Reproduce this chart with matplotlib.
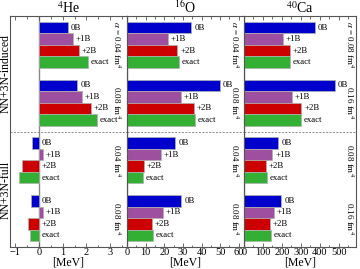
import matplotlib
matplotlib.use("Agg")
import matplotlib.pyplot as plt
from matplotlib.ticker import MultipleLocator

plt.rcParams['font.family'] = ['Liberation Serif', 'DejaVu Serif']
plt.rcParams['mathtext.fontset'] = 'stix'

nuclei = ["$^{4}$He", "$^{16}$O", "$^{40}$Ca"]
bar_labels = ["0B", "+1B", "+2B", "exact"]
bar_colors = ["#0000cc", "#9f4f9f", "#cc0000", "#33b033"]
row_labels = ["NN+3N-induced", "NN+3N-full"]

# values [MeV]: order within each group: 0B, +1B, +2B, exact
he_induced_a1 = [1.22, 1.42, 1.67, 2.07]
he_induced_a2 = [1.62, 1.81, 2.18, 2.46]
he_full_a1 = [-0.28, 0.18, -0.70, -0.86]
he_full_a2 = [-0.35, 0.16, -0.48, -0.38]

o_induced_a1 = [34.6, 22.0, 27.0, 28.0]
o_induced_a2 = [50.0, 29.0, 36.0, 36.4]
o_full_a1 = [26.0, 18.4, 9.0, 8.4]
o_full_a2 = [29.2, 19.4, 13.4, 13.8]

ca_induced_a1 = [375, 203, 242, 242]
ca_induced_a2 = [478, 251, 302, 300]
ca_full_a1 = [181, 149, 115, 119]
ca_full_a2 = [197, 158, 136, 142]

alpha_labels = [
    ["$\\alpha$ = 0.04 fm$^4$", "0.08 fm$^4$", "0.04 fm$^4$", "0.08 fm$^4$"],
    ["$\\alpha$ = 0.04 fm$^4$", "0.08 fm$^4$", "0.04 fm$^4$", "0.08 fm$^4$"],
    ["$\\alpha$ = 0.08 fm$^4$", "0.16 fm$^4$", "0.08 fm$^4$", "0.16 fm$^4$"],
]

data = [
    [he_induced_a1, he_induced_a2, he_full_a1, he_full_a2],
    [o_induced_a1, o_induced_a2, o_full_a1, o_full_a2],
    [ca_induced_a1, ca_induced_a2, ca_full_a1, ca_full_a2],
]

xlims = [(-1.22, 3.71), (0, 62.8), (0, 590)]
minor = [0.5, 5, 50]
ticks = [[-1, 0, 1, 2, 3], list(range(0, 61, 10)), list(range(0, 501, 100))]
alpha_x = [0.915, 0.923, 0.946]

W, H = 360, 269
fig = plt.figure(figsize=(W / 100, H / 100), dpi=100)
lefts = [10, 127, 244]
widths = [117, 117, 112]
bottom_px, top_px = 247, 16

group_starts = [1, 6, 11, 16]
spine_col = "#555555"

for c in range(3):
    ax = fig.add_axes([lefts[c] / W, (H - bottom_px) / H, widths[c] / W, (bottom_px - top_px) / H])
    ax.set_ylim(20, 0)
    ax.set_xlim(*xlims[c])
    ax.axvline(0, color="#888888", lw=1.0, zorder=1)
    ax.axhline(10, color="#888888", lw=0.7, ls=(0, (2, 1.5)), zorder=1)
    for g in range(4):
        vals = data[c][g]
        for i, v in enumerate(vals):
            y = group_starts[g] + i
            ax.barh(y, v, height=1.0, color=bar_colors[i], edgecolor="#b0b0b0", linewidth=0.5, zorder=2)
            ax.annotate(bar_labels[i], xy=(max(v, 0), y), xytext=(2, 0), textcoords="offset points",
                        ha="left", va="center", fontsize=6.3, zorder=3)
        ax.text(alpha_x[c], group_starts[g] + 1.5, alpha_labels[c][g], transform=ax.get_yaxis_transform(),
                rotation=270, ha="center", va="center", fontsize=6.5)
    ax.set_yticks([])
    ax.set_xticks(ticks[c])
    ax.xaxis.set_minor_locator(MultipleLocator(minor[c]))
    ax.tick_params(axis="x", which="both", direction="in", top=True, bottom=True,
                   labelsize=7.5, pad=1.0, color=spine_col, width=0.6)
    ax.tick_params(axis="x", which="major", length=3)
    ax.tick_params(axis="x", which="minor", length=1.8)
    for s in ax.spines.values():
        s.set_color(spine_col)
        s.set_linewidth(0.8)
    ax.set_xlabel("[MeV]", fontsize=8.5, labelpad=-0.5)
    ax.set_title(nuclei[c], fontsize=10, pad=2)

fig.text(6 / W, 1 - 74 / H, row_labels[0], rotation=90, ha="center", va="center", fontsize=8.5)
fig.text(6 / W, 1 - 190 / H, row_labels[1], rotation=90, ha="center", va="center", fontsize=8.5)

fig.savefig("out.png", dpi=100)
